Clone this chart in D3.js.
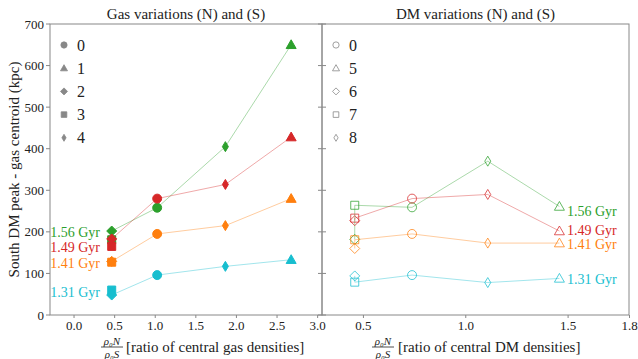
<!DOCTYPE html>
<html lang="en">
<head>
<meta charset="UTF-8">
<title>South DM peak - gas centroid</title>
<script src="https://d3js.org/d3.v7.min.js"></script>
<style>
  body { margin: 0; background: #fff; }
  svg { display: block; }
  svg text { font-family: 'Liberation Serif', 'Times New Roman', serif; }
  .tick text { fill: #222; font-size: 13px; }
</style>
</head>
<body>
<div id="chart"></div>
<script>
  // series colours and epoch labels (one per line)
  const colors = ["#2ca02c", "#d62728", "#ff7f0e", "#17becf"];
  const epochs = ["1.56 Gyr", "1.49 Gyr", "1.41 Gyr", "1.31 Gyr"];

  // gas variations panel
  const gasRuns = ["3", "2", "0", "4", "1"];
  const gasX = [0.47, 0.47, 1.03, 1.87, 2.68];
  const gasY = [
    [181, 202, 258, 405, 650],
    [165, 183, 280, 314, 428],
    [127, 129, 195, 215, 280],
    [60, 48, 96, 117, 133]
  ];
  const gasLegend = ["0", "1", "2", "3", "4"];
  const gasLabelY = [200, 163, 125, 55];

  // DM variations panel
  const dmRuns = ["6", "7", "0", "8", "5"];
  const dmX = [0.46, 0.46, 0.74, 1.11, 1.46];
  const dmY = [
    [182, 264, 259, 370, 261],
    [227, 233, 280, 290, 202],
    [160, 181, 195, 173, 173],
    [94, 79, 96, 78, 88]
  ];
  const dmLegend = ["0", "5", "6", "7", "8"];
  const dmLabelY = [250, 204, 171, 87];

  const yTicks = [0, 100, 200, 300, 400, 500, 600, 700];
  const gasTicks = [0.0, 0.5, 1.0, 1.5, 2.0, 2.5, 3.0];
  const dmTicks = [0.5, 1.0, 1.5, 1.8];

  const W = 638, H = 359;
  const plotTop = 24, plotBottom = 315;
  const svg = d3.select("#chart").append("svg").attr("width", W).attr("height", H);

  const y = d3.scaleLinear().domain([0, 700]).range([plotBottom, plotTop]);
  const xGas = d3.scaleLinear().domain([-0.29, 3.06]).range([50, 322]);
  const xDm = d3.scaleLinear().domain([0.3, 1.8]).range([322, 629]);

  // marker shapes
  function shape(run, s) {
    const h = s / 2;
    switch (run) {
      case "0": return d3.symbol(d3.symbolCircle, Math.PI * h * h * 0.8)();
      case "1": case "5": return `M0,${-h}L${h},${h * 0.75}L${-h},${h * 0.75}Z`;
      case "2": case "6": return `M0,${-h}L${h},0L0,${h}L${-h},0Z`;
      case "3": case "7": { const a = h * 0.8; return `M${-a},${-a}H${a}V${a}H${-a}Z`; }
      default: return `M0,${-h}L${h * 0.6},0L0,${h}L${-h * 0.6},0Z`;
    }
  }

  function panel(x, ticks, runs, xs, ys, legend, labelY, filled, title, what, labelSide, fracX, textX) {
    const [x0, x1] = x.range();
    const g = svg.append("g");

    g.append("rect").attr("x", x0).attr("y", plotTop)
      .attr("width", x1 - x0).attr("height", plotBottom - plotTop)
      .attr("fill", "none").attr("stroke", "#888").attr("stroke-width", 1);

    const ax = g.append("g").attr("transform", `translate(0,${plotBottom})`)
      .call(d3.axisBottom(x).tickValues(ticks).tickSize(3).tickPadding(3).tickFormat(d3.format(".1f")));
    ax.attr("font-family", null);
    ax.select(".domain").remove();
    ax.selectAll("line").attr("stroke", "#888");

    // y ticks: outside on the far left, inside on both sides of the shared border
    yTicks.forEach(v => {
      if (labelSide === "left") {
        g.append("line").attr("x1", x0 - 4).attr("x2", x0).attr("y1", y(v)).attr("y2", y(v)).attr("stroke", "#888");
        g.append("text").attr("x", x0 - 6).attr("y", y(v)).attr("dy", "0.35em")
          .attr("text-anchor", "end").attr("font-size", 13).attr("fill", "#222").text(v);
        g.append("line").attr("x1", x1 - 4).attr("x2", x1).attr("y1", y(v)).attr("y2", y(v)).attr("stroke", "#888");
      } else {
        g.append("line").attr("x1", x0).attr("x2", x0 + 4).attr("y1", y(v)).attr("y2", y(v)).attr("stroke", "#888");
      }
    });

    g.append("text").attr("x", (x0 + x1) / 2).attr("y", 19).attr("text-anchor", "middle")
      .attr("font-size", 15).attr("fill", "#222").text(title);

    // series
    ys.forEach((vals, i) => {
      const pts = vals.map((v, j) => ({ x: xs[j], y: v, run: runs[j] }));
      g.append("path").datum(pts)
        .attr("d", d3.line().x(d => x(d.x)).y(d => y(d.y)))
        .attr("fill", "none").attr("stroke", colors[i]).attr("stroke-opacity", 0.4).attr("stroke-width", 1);
      g.selectAll(null).data(pts).join("path")
        .attr("transform", d => `translate(${x(d.x)},${y(d.y)})`)
        .attr("d", d => shape(d.run, 10))
        .attr("fill", filled ? colors[i] : "none")
        .attr("stroke", colors[i]).attr("stroke-width", 1)
        .attr("stroke-opacity", filled ? 1 : 0.75);

      const lx = labelSide === "left" ? 100 : 567;
      g.append("text").attr("x", lx).attr("y", y(labelY[i])).attr("dy", "0.35em")
        .attr("text-anchor", labelSide === "left" ? "end" : "start")
        .attr("font-size", 14).attr("fill", colors[i]).text(epochs[i]);
    });

    // legend
    legend.forEach((r, i) => {
      const ly = 45 + i * 23.2;
      const lx = x0 + 14;
      g.append("path").attr("transform", `translate(${lx},${ly})`)
        .attr("d", shape(r, 7))
        .attr("fill", filled ? "#888" : "none").attr("stroke", "#888").attr("stroke-width", 0.8);
      g.append("text").attr("x", lx + 13).attr("y", ly).attr("dy", "0.35em")
        .attr("font-size", 16).attr("fill", "#222").text(r);
    });

    // x label: fraction then words
    const frac = g.append("g").attr("font-style", "italic").attr("fill", "#222");
    frac.append("text").attr("x", fracX).attr("y", 344.5).attr("text-anchor", "middle")
      .attr("font-size", 11).text("ρ₀N");
    frac.append("line").attr("x1", fracX - 11).attr("x2", fracX + 11).attr("y1", 347).attr("y2", 347)
      .attr("stroke", "#222").attr("stroke-width", 0.8);
    frac.append("text").attr("x", fracX).attr("y", 357.5).attr("text-anchor", "middle")
      .attr("font-size", 11).text("ρ₀S");
    g.append("text").attr("x", textX).attr("y", 352)
      .attr("font-size", 15).attr("fill", "#222").text(what);
  }

  panel(xGas, gasTicks, gasRuns, gasX, gasY, gasLegend, gasLabelY, true,
    "Gas variations (N) and (S)", "[ratio of central gas densities]", "left", 112, 126);
  panel(xDm, dmTicks, dmRuns, dmX, dmY, dmLegend, dmLabelY, false,
    "DM variations (N) and (S)", "[ratio of central DM densities]", "right", 383, 398);

  svg.append("text").attr("transform", `translate(19,${(plotTop + plotBottom) / 2}) rotate(-90)`)
    .attr("text-anchor", "middle").attr("font-size", 15).attr("fill", "#222")
    .text("South DM peak - gas centroid (kpc)");
</script>
</body>
</html>
